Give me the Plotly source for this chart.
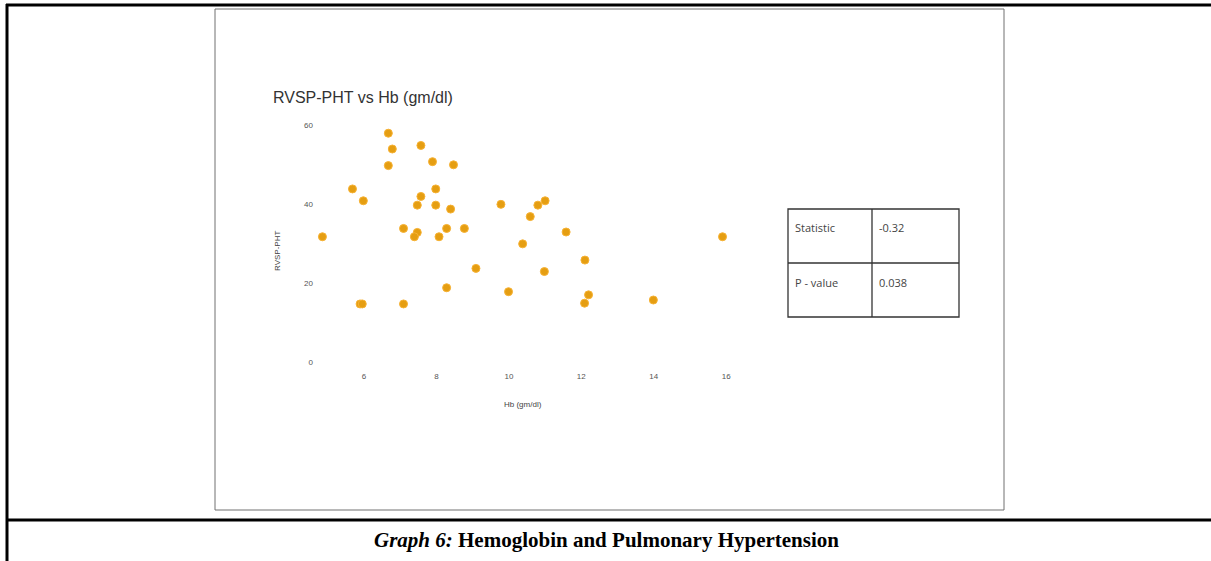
import plotly.graph_objects as go

# Data: Hb (gm/dl) vs RVSP-PHT
hb = [4.85, 5.68, 5.98, 5.89, 5.95, 6.67, 6.78, 6.67, 7.09, 7.09,
      7.57, 7.89, 8.47, 7.98, 7.57, 7.47, 7.98, 8.39, 7.47, 7.39,
      8.28, 8.77, 8.07, 9.09, 8.28,
      9.78, 10.80, 11.00, 10.59, 11.58, 10.38, 12.10, 10.98, 9.99,
      12.20, 12.09, 13.99, 15.90]
rvsp = [31.7, 43.8, 40.8, 14.7, 14.7, 57.9, 53.9, 49.7, 33.8, 14.7,
        54.8, 50.7, 49.9, 43.8, 41.9, 39.7, 39.7, 38.7, 32.8, 31.7,
        33.8, 33.8, 31.7, 23.7, 18.8,
        39.9, 39.7, 40.8, 36.8, 32.9, 29.9, 25.8, 22.9, 17.8,
        17.0, 14.9, 15.7, 31.7]

x_ticks = [6, 8, 10, 12, 14, 16]
y_ticks = [0, 20, 40, 60]

table_labels = ["Statistic", "P - value"]
table_values = ["-0.32", "0.038"]

title_text = "RVSP-PHT vs Hb (gm/dl)"
x_title = "Hb (gm/dl)"
y_title = "RVSP-PHT"
caption = "<b><i>Graph 6:</i> Hemoglobin and Pulmonary Hypertension</b>"

# layout geometry (pixels)
FW, FH = 1211, 561
L, R, T, B = 317, 474, 117, 195
W = FW - L - R
H = FH - T - B


def px(x):
    return (x - L) / W


def py(y):
    return (FH - B - y) / H


fig = go.Figure()
fig.add_trace(go.Scatter(
    x=hb, y=rvsp, mode="markers",
    marker=dict(size=8, color="#E59E12", line=dict(color="#F7B233", width=1)),
    showlegend=False, hoverinfo="x+y"))

shapes = []
# outer page borders (black, thick)
shapes.append(dict(type="line", xref="paper", yref="paper",
                   x0=px(6), x1=px(1211), y0=py(5), y1=py(5),
                   line=dict(color="black", width=3)))
shapes.append(dict(type="line", xref="paper", yref="paper",
                   x0=px(7), x1=px(7), y0=py(4), y1=py(561),
                   line=dict(color="black", width=3)))
shapes.append(dict(type="line", xref="paper", yref="paper",
                   x0=px(6), x1=px(1211), y0=py(520), y1=py(520),
                   line=dict(color="black", width=3)))
# inner image frame
shapes.append(dict(type="rect", xref="paper", yref="paper",
                   x0=px(215), x1=px(1004), y0=py(9), y1=py(510),
                   line=dict(color="#707070", width=1)))
# stats table
tx0, tx1, tmid = 788, 959, 872
ty0, ty1, tymid = 209, 317, 263
shapes.append(dict(type="rect", xref="paper", yref="paper",
                   x0=px(tx0), x1=px(tx1), y0=py(ty0), y1=py(ty1),
                   line=dict(color="#333333", width=1.3)))
shapes.append(dict(type="line", xref="paper", yref="paper",
                   x0=px(tmid), x1=px(tmid), y0=py(ty0), y1=py(ty1),
                   line=dict(color="#333333", width=1.3)))
shapes.append(dict(type="line", xref="paper", yref="paper",
                   x0=px(tx0), x1=px(tx1), y0=py(tymid), y1=py(tymid),
                   line=dict(color="#333333", width=1.3)))

annotations = []
row_y = [227, 282]
for lab, val, ry in zip(table_labels, table_values, row_y):
    annotations.append(dict(x=px(793), y=py(ry), xref="paper", yref="paper",
                            text=lab, showarrow=False, xanchor="left", yanchor="middle",
                            font=dict(family="Open Sans", size=11, color="#444")))
    annotations.append(dict(x=px(877), y=py(ry), xref="paper", yref="paper",
                            text=val, showarrow=False, xanchor="left", yanchor="middle",
                            font=dict(family="Open Sans", size=11, color="#444")))
# chart title
annotations.append(dict(x=px(271), y=py(98), xref="paper", yref="paper",
                        text=title_text, showarrow=False, xanchor="left", yanchor="middle",
                        font=dict(family="Liberation Sans", size=16, color="#333")))
# axis titles
annotations.append(dict(x=px(523), y=py(404), xref="paper", yref="paper",
                        text=x_title, showarrow=False, xanchor="center", yanchor="middle",
                        font=dict(family="Liberation Sans", size=8, color="#444")))
annotations.append(dict(x=px(277), y=py(251), xref="paper", yref="paper",
                        text=y_title, showarrow=False, xanchor="center", yanchor="middle",
                        textangle=-90,
                        font=dict(family="Liberation Sans", size=8, color="#444")))
# caption
annotations.append(dict(x=px(606), y=py(540), xref="paper", yref="paper",
                        text=caption, showarrow=False, xanchor="center", yanchor="middle",
                        font=dict(family="Liberation Serif", size=21, color="black")))

fig.update_layout(
    width=FW, height=FH,
    margin=dict(l=L, r=R, t=T, b=B, pad=0),
    paper_bgcolor="white", plot_bgcolor="white",
    shapes=shapes, annotations=annotations,
    showlegend=False,
)
fig.update_xaxes(range=[4.7, 16.3], tickvals=x_ticks, showgrid=False, zeroline=False,
                 showline=False, ticks="", tickfont=dict(family="Liberation Sans", size=8, color="#555"),
                 ticklabelstandoff=4)
fig.update_yaxes(range=[-1, 62], tickvals=y_ticks, showgrid=False, zeroline=False,
                 showline=False, ticks="", tickfont=dict(family="Liberation Sans", size=8, color="#555"),
                 ticklabelstandoff=3)

fig.write_html("out.html")
